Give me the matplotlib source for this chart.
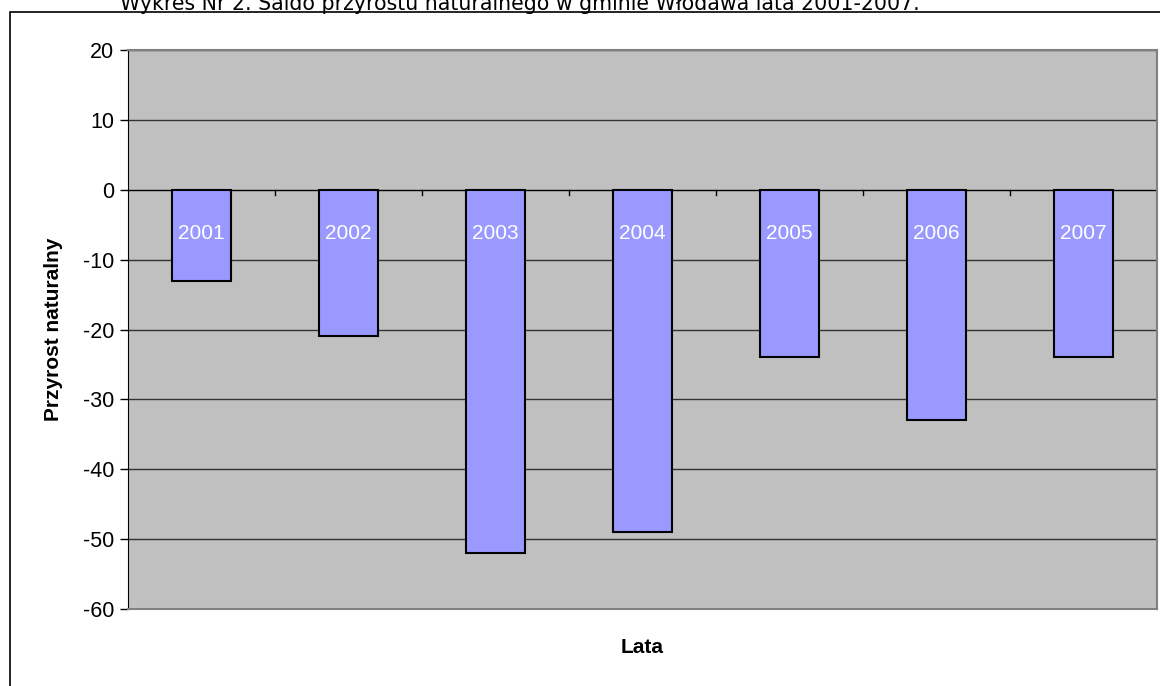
import numpy as np
import matplotlib.pyplot as plt
from matplotlib.patches import Rectangle

plt.rcParams['font.family'] = ['Liberation Sans', 'DejaVu Sans']

years = ["2001", "2002", "2003", "2004", "2005", "2006", "2007"]
saldo = [-13, -21, -52, -49, -24, -33, -24]
yticks = [20, 10, 0, -10, -20, -30, -40, -50, -60]

fig = plt.figure(figsize=(11.6, 6.86), dpi=100)

# outer frame of the chart area
fig.patches.append(Rectangle((10/1160, -0.01), 1.2, 1 - 12/686 + 0.01, transform=fig.transFigure,
                             fill=False, edgecolor="black", linewidth=1.2))

# title, partly cut by the top of the page
fig.text(120/1160, 1 + 6/686, "Wykres Nr 2. Saldo przyrostu naturalnego w gminie Włodawa lata 2001-2007.",
         ha="left", va="top", fontsize=14.8, family="DejaVu Sans")

ax = fig.add_axes([128/1160, 1 - 609/686, (1157-128)/1160, (609-50)/686])
ax.set_facecolor("#C0C0C0")

x = np.arange(len(years))
ax.bar(x, saldo, width=0.4, color="#9999FF", edgecolor="black", linewidth=1.5, zorder=3)
for xi, lab in zip(x, years):
    ax.text(xi, -6.3, lab, color="white", ha="center", va="center", fontsize=15, zorder=4)

ax.set_xlim(-0.5, len(years) - 0.5)
ax.set_ylim(-60, 20)
ax.set_yticks(yticks)
ax.set_yticklabels([str(v) for v in yticks], fontsize=15.5)
ax.tick_params(axis="y", length=6, width=1, pad=4)
for v in yticks:
    ax.axhline(v, color="black" if v == 0 else "#333333", linewidth=1, zorder=1)

# category ticks on the zero line
ax.set_xticks([])
for b in np.arange(0.5, len(years) - 0.5, 1.0):
    ax.plot([b, b], [0, -0.8], color="black", linewidth=1, zorder=2)

for s in ["top", "right", "bottom"]:
    ax.spines[s].set_color("#808080")
    ax.spines[s].set_linewidth(1.5)
ax.spines["left"].set_color("black")

ax.set_ylabel("Przyrost naturalny", fontsize=15, fontweight="bold", labelpad=14)
ax.set_xlabel("Lata", fontsize=15, fontweight="bold", labelpad=21)

fig.savefig("out.png", dpi=100)
